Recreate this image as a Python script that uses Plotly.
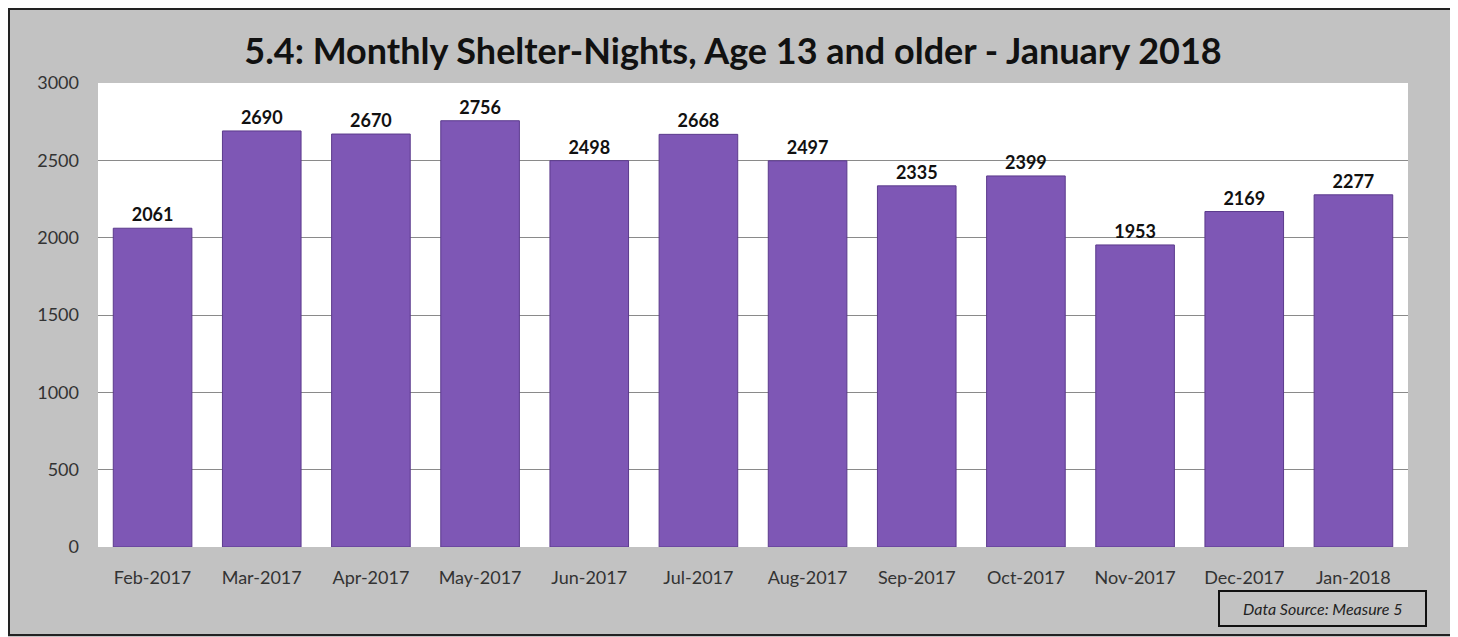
import plotly.graph_objects as go

months = ["Feb-2017", "Mar-2017", "Apr-2017", "May-2017", "Jun-2017", "Jul-2017",
          "Aug-2017", "Sep-2017", "Oct-2017", "Nov-2017", "Dec-2017", "Jan-2018"]
nights = [2061, 2690, 2670, 2756, 2498, 2668, 2497, 2335, 2399, 1953, 2169, 2277]
y_ticks = [0, 500, 1000, 1500, 2000, 2500, 3000]

title_text = "5.4: Monthly Shelter-Nights, Age 13 and older - January 2018"
source_text = "<i>Data Source: Measure 5</i>"

font_family = "Lato, 'Open Sans', sans-serif"

W, H = 1450, 629
L, R, T, B = 90, 50, 75, 90
PW, PH = W - L - R, H - T - B


def px(x):
    return (x - L) / PW


def py(y):
    return (H - B - y) / PH


fig = go.Figure()
fig.add_trace(go.Bar(
    x=months, y=nights,
    marker=dict(color="#7E57B5", line=dict(color="#5B3A8C", width=1)),
    text=[str(v) for v in nights], textposition="outside",
    textfont=dict(family=font_family, size=18, color="#111111"),
    texttemplate="<b>%{text}</b>",
    cliponaxis=False,
))

fig.update_layout(
    width=W, height=H,
    paper_bgcolor="#c2c2c2", plot_bgcolor="#ffffff",
    margin=dict(l=L, r=R, t=T, b=B),
    bargap=0.28,
    showlegend=False,
    font=dict(family=font_family, color="#333333"),
    title=dict(text="<b>" + title_text + "</b>", x=0.5, xanchor="center",
               y=1 - 43 / H, yanchor="middle",
               font=dict(family=font_family, size=36, color="#111111")),
    xaxis=dict(showgrid=False, ticks="", tickfont=dict(size=18, color="#333333"),
               showline=False, ticklabelstandoff=18),
    yaxis=dict(range=[0, 3000], tickvals=y_ticks, showgrid=True, gridcolor="#8a8a8a",
               gridwidth=1, zeroline=False, ticks="", ticklabelstandoff=18,
               tickfont=dict(size=18, color="#333333")),
    shapes=[
        dict(type="rect", xref="paper", yref="paper", x0=px(1), x1=px(W - 5),
             y0=py(H - 2), y1=py(1), line=dict(color="#222222", width=2)),
        dict(type="rect", xref="paper", yref="paper", x0=px(1211), x1=px(1418),
             y0=py(618), y1=py(583), line=dict(color="#111111", width=2),
             fillcolor="rgba(0,0,0,0)"),
    ],
    annotations=[
        dict(text=source_text, xref="paper", yref="paper",
             x=px((1211 + 1418) / 2), y=py(600.5),
             showarrow=False, xanchor="center", yanchor="middle",
             font=dict(family=font_family, size=16, color="#222222")),
    ],
)

fig.write_html("out.html")
